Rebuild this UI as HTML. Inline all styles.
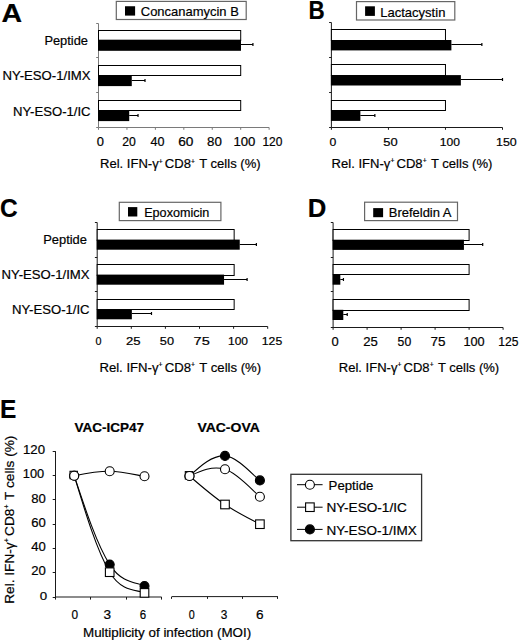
<!DOCTYPE html><html><head><meta charset="utf-8"><style>html,body{margin:0;padding:0;background:#fff;overflow:hidden}svg{display:block}text{font-family:"Liberation Sans",sans-serif;fill:#000;stroke:#000;stroke-width:0.2px}</style></head><body>
<svg width="520" height="642" viewBox="0 0 520 642">
<line x1="98.5" y1="23.5" x2="98.5" y2="127.5" stroke="#7a7a7a" stroke-width="1"/>
<line x1="96.2" y1="23.5" x2="98.5" y2="23.5" stroke="#7a7a7a" stroke-width="1"/>
<line x1="96.2" y1="57.5" x2="98.5" y2="57.5" stroke="#7a7a7a" stroke-width="1"/>
<line x1="96.2" y1="92.5" x2="98.5" y2="92.5" stroke="#7a7a7a" stroke-width="1"/>
<line x1="96.2" y1="127.5" x2="98.5" y2="127.5" stroke="#7a7a7a" stroke-width="1"/>
<line x1="98.5" y1="127.5" x2="269.14" y2="127.5" stroke="#7a7a7a" stroke-width="1"/>
<line x1="98.50" y1="127.5" x2="98.50" y2="129.8" stroke="#7a7a7a" stroke-width="1"/>
<line x1="126.94" y1="127.5" x2="126.94" y2="129.8" stroke="#7a7a7a" stroke-width="1"/>
<line x1="155.38" y1="127.5" x2="155.38" y2="129.8" stroke="#7a7a7a" stroke-width="1"/>
<line x1="183.82" y1="127.5" x2="183.82" y2="129.8" stroke="#7a7a7a" stroke-width="1"/>
<line x1="212.26" y1="127.5" x2="212.26" y2="129.8" stroke="#7a7a7a" stroke-width="1"/>
<line x1="240.70" y1="127.5" x2="240.70" y2="129.8" stroke="#7a7a7a" stroke-width="1"/>
<line x1="269.14" y1="127.5" x2="269.14" y2="129.8" stroke="#7a7a7a" stroke-width="1"/>
<rect x="98.5" y="30.5" width="142.20" height="10" fill="#fff" stroke="#000" stroke-width="1"/>
<rect x="98.0" y="39.7" width="142.98" height="11.1" fill="#000"/>
<line x1="240.98" y1="44.50" x2="252.93" y2="44.50" stroke="#000" stroke-width="1"/>
<line x1="252.93" y1="43.00" x2="252.93" y2="46.00" stroke="#000" stroke-width="1.2"/>
<rect x="98.5" y="65.5" width="142.20" height="10" fill="#fff" stroke="#000" stroke-width="1"/>
<rect x="98.0" y="75" width="33.77" height="11.1" fill="#000"/>
<line x1="131.77" y1="80.50" x2="145.00" y2="80.50" stroke="#000" stroke-width="1"/>
<line x1="145.00" y1="79.00" x2="145.00" y2="82.00" stroke="#000" stroke-width="1.2"/>
<rect x="98.5" y="100.5" width="142.20" height="10" fill="#fff" stroke="#000" stroke-width="1"/>
<rect x="98.0" y="110" width="31.22" height="11.1" fill="#000"/>
<line x1="129.22" y1="115.50" x2="138.03" y2="115.50" stroke="#000" stroke-width="1"/>
<line x1="138.03" y1="114.00" x2="138.03" y2="117.00" stroke="#000" stroke-width="1.2"/>
<rect x="116.3" y="1.4" width="129.90" height="18.10" fill="#fff" stroke="#666" stroke-width="1.2"/>
<rect x="125" y="6.25" width="10.10" height="9.35" fill="#000"/>
<line x1="331.4" y1="22.5" x2="331.4" y2="127.5" stroke="#1a1a1a" stroke-width="1"/>
<line x1="329.09999999999997" y1="22.5" x2="331.4" y2="22.5" stroke="#1a1a1a" stroke-width="1"/>
<line x1="329.09999999999997" y1="57.5" x2="331.4" y2="57.5" stroke="#1a1a1a" stroke-width="1"/>
<line x1="329.09999999999997" y1="92.5" x2="331.4" y2="92.5" stroke="#1a1a1a" stroke-width="1"/>
<line x1="329.09999999999997" y1="127.5" x2="331.4" y2="127.5" stroke="#1a1a1a" stroke-width="1"/>
<line x1="331.4" y1="127.5" x2="502.505" y2="127.5" stroke="#1a1a1a" stroke-width="1"/>
<line x1="331.40" y1="127.5" x2="331.40" y2="129.8" stroke="#1a1a1a" stroke-width="1"/>
<line x1="388.44" y1="127.5" x2="388.44" y2="129.8" stroke="#1a1a1a" stroke-width="1"/>
<line x1="445.47" y1="127.5" x2="445.47" y2="129.8" stroke="#1a1a1a" stroke-width="1"/>
<line x1="502.50" y1="127.5" x2="502.50" y2="129.8" stroke="#1a1a1a" stroke-width="1"/>
<rect x="331.4" y="29.5" width="114.07" height="11" fill="#fff" stroke="#000" stroke-width="1"/>
<rect x="330.9" y="40" width="120.50" height="10.4" fill="#000"/>
<line x1="451.40" y1="44.50" x2="481.86" y2="44.50" stroke="#000" stroke-width="1"/>
<line x1="481.86" y1="43.00" x2="481.86" y2="46.00" stroke="#000" stroke-width="1.2"/>
<rect x="331.4" y="64.5" width="114.07" height="11" fill="#fff" stroke="#000" stroke-width="1"/>
<rect x="330.9" y="75.1" width="129.97" height="10.4" fill="#000"/>
<line x1="460.87" y1="79.50" x2="502.50" y2="79.50" stroke="#000" stroke-width="1"/>
<line x1="502.50" y1="78.00" x2="502.50" y2="81.00" stroke="#000" stroke-width="1.2"/>
<rect x="331.4" y="100.5" width="114.07" height="10" fill="#fff" stroke="#000" stroke-width="1"/>
<rect x="330.9" y="110.5" width="29.47" height="10.4" fill="#000"/>
<line x1="360.37" y1="115.50" x2="374.86" y2="115.50" stroke="#000" stroke-width="1"/>
<line x1="374.86" y1="114.00" x2="374.86" y2="117.00" stroke="#000" stroke-width="1.2"/>
<rect x="356.5" y="1.6" width="98.30" height="18.40" fill="#fff" stroke="#666" stroke-width="1.2"/>
<rect x="365.1" y="6.3" width="9.80" height="9.60" fill="#000"/>
<line x1="97.2" y1="222.5" x2="97.2" y2="326.5" stroke="#1a1a1a" stroke-width="1"/>
<line x1="94.9" y1="222.5" x2="97.2" y2="222.5" stroke="#1a1a1a" stroke-width="1"/>
<line x1="94.9" y1="257.5" x2="97.2" y2="257.5" stroke="#1a1a1a" stroke-width="1"/>
<line x1="94.9" y1="291.5" x2="97.2" y2="291.5" stroke="#1a1a1a" stroke-width="1"/>
<line x1="94.9" y1="326.5" x2="97.2" y2="326.5" stroke="#1a1a1a" stroke-width="1"/>
<line x1="97.2" y1="326.5" x2="267.7" y2="326.5" stroke="#1a1a1a" stroke-width="1"/>
<line x1="97.20" y1="326.5" x2="97.20" y2="328.8" stroke="#1a1a1a" stroke-width="1"/>
<line x1="131.30" y1="326.5" x2="131.30" y2="328.8" stroke="#1a1a1a" stroke-width="1"/>
<line x1="165.40" y1="326.5" x2="165.40" y2="328.8" stroke="#1a1a1a" stroke-width="1"/>
<line x1="199.50" y1="326.5" x2="199.50" y2="328.8" stroke="#1a1a1a" stroke-width="1"/>
<line x1="233.60" y1="326.5" x2="233.60" y2="328.8" stroke="#1a1a1a" stroke-width="1"/>
<line x1="267.70" y1="326.5" x2="267.70" y2="328.8" stroke="#1a1a1a" stroke-width="1"/>
<rect x="97.2" y="229.5" width="136.95" height="11" fill="#fff" stroke="#000" stroke-width="1"/>
<rect x="96.7" y="239.6" width="143.04" height="10.1" fill="#000"/>
<line x1="239.74" y1="244.50" x2="256.38" y2="244.50" stroke="#000" stroke-width="1"/>
<line x1="256.38" y1="243.00" x2="256.38" y2="246.00" stroke="#000" stroke-width="1.2"/>
<rect x="97.2" y="264.5" width="136.95" height="11" fill="#fff" stroke="#000" stroke-width="1"/>
<rect x="96.7" y="274.6" width="127.35" height="10.1" fill="#000"/>
<line x1="224.05" y1="279.50" x2="247.10" y2="279.50" stroke="#000" stroke-width="1"/>
<line x1="247.10" y1="278.00" x2="247.10" y2="281.00" stroke="#000" stroke-width="1.2"/>
<rect x="97.2" y="299.5" width="136.95" height="10" fill="#fff" stroke="#000" stroke-width="1"/>
<rect x="96.7" y="309.2" width="35.15" height="10.1" fill="#000"/>
<line x1="131.85" y1="313.50" x2="151.49" y2="313.50" stroke="#000" stroke-width="1"/>
<line x1="151.49" y1="312.00" x2="151.49" y2="315.00" stroke="#000" stroke-width="1.2"/>
<rect x="119.3" y="202.3" width="101.60" height="18.30" fill="#fff" stroke="#666" stroke-width="1.2"/>
<rect x="128" y="207.1" width="9.30" height="9.40" fill="#000"/>
<line x1="333.1" y1="222.5" x2="333.1" y2="327.5" stroke="#1a1a1a" stroke-width="1"/>
<line x1="330.8" y1="222.5" x2="333.1" y2="222.5" stroke="#1a1a1a" stroke-width="1"/>
<line x1="330.8" y1="257.5" x2="333.1" y2="257.5" stroke="#1a1a1a" stroke-width="1"/>
<line x1="330.8" y1="291.5" x2="333.1" y2="291.5" stroke="#1a1a1a" stroke-width="1"/>
<line x1="330.8" y1="327.5" x2="333.1" y2="327.5" stroke="#1a1a1a" stroke-width="1"/>
<line x1="333.1" y1="327.5" x2="503.1" y2="327.5" stroke="#1a1a1a" stroke-width="1"/>
<line x1="333.10" y1="327.5" x2="333.10" y2="329.8" stroke="#1a1a1a" stroke-width="1"/>
<line x1="367.10" y1="327.5" x2="367.10" y2="329.8" stroke="#1a1a1a" stroke-width="1"/>
<line x1="401.10" y1="327.5" x2="401.10" y2="329.8" stroke="#1a1a1a" stroke-width="1"/>
<line x1="435.10" y1="327.5" x2="435.10" y2="329.8" stroke="#1a1a1a" stroke-width="1"/>
<line x1="469.10" y1="327.5" x2="469.10" y2="329.8" stroke="#1a1a1a" stroke-width="1"/>
<line x1="503.10" y1="327.5" x2="503.10" y2="329.8" stroke="#1a1a1a" stroke-width="1"/>
<rect x="333.1" y="229.5" width="136.00" height="11" fill="#fff" stroke="#000" stroke-width="1"/>
<rect x="332.6" y="239.7" width="131.33" height="10.2" fill="#000"/>
<line x1="463.93" y1="244.50" x2="482.70" y2="244.50" stroke="#000" stroke-width="1"/>
<line x1="482.70" y1="243.00" x2="482.70" y2="246.00" stroke="#000" stroke-width="1.2"/>
<rect x="333.1" y="264.5" width="136.00" height="10" fill="#fff" stroke="#000" stroke-width="1"/>
<rect x="332.6" y="274.5" width="7.71" height="10.2" fill="#000"/>
<line x1="340.31" y1="279.50" x2="343.44" y2="279.50" stroke="#000" stroke-width="1"/>
<line x1="343.44" y1="278.00" x2="343.44" y2="281.00" stroke="#000" stroke-width="1.2"/>
<rect x="333.1" y="299.5" width="136.00" height="11" fill="#fff" stroke="#000" stroke-width="1"/>
<rect x="332.6" y="309.8" width="10.70" height="10.2" fill="#000"/>
<line x1="343.30" y1="314.50" x2="347.24" y2="314.50" stroke="#000" stroke-width="1"/>
<line x1="347.24" y1="313.00" x2="347.24" y2="316.00" stroke="#000" stroke-width="1.2"/>
<rect x="364.6" y="202.2" width="92.90" height="18.40" fill="#fff" stroke="#666" stroke-width="1.2"/>
<rect x="373.2" y="208.1" width="9.90" height="9.10" fill="#000"/>
<line x1="55.5" y1="451.2" x2="55.5" y2="597.3" stroke="#1a1a1a" stroke-width="1"/>
<line x1="52.7" y1="597.50" x2="55.5" y2="597.50" stroke="#1a1a1a" stroke-width="1"/>
<line x1="52.7" y1="572.50" x2="55.5" y2="572.50" stroke="#1a1a1a" stroke-width="1"/>
<line x1="52.7" y1="548.50" x2="55.5" y2="548.50" stroke="#1a1a1a" stroke-width="1"/>
<line x1="52.7" y1="524.50" x2="55.5" y2="524.50" stroke="#1a1a1a" stroke-width="1"/>
<line x1="52.7" y1="499.50" x2="55.5" y2="499.50" stroke="#1a1a1a" stroke-width="1"/>
<line x1="52.7" y1="475.50" x2="55.5" y2="475.50" stroke="#1a1a1a" stroke-width="1"/>
<line x1="52.7" y1="451.50" x2="55.5" y2="451.50" stroke="#1a1a1a" stroke-width="1"/>
<line x1="55.5" y1="597" x2="161.6" y2="597" stroke="#1a1a1a" stroke-width="1.2"/>
<line x1="55.5" y1="597" x2="55.5" y2="599.6" stroke="#1a1a1a" stroke-width="1"/>
<line x1="90.5" y1="597" x2="90.5" y2="599.6" stroke="#1a1a1a" stroke-width="1"/>
<line x1="126.5" y1="597" x2="126.5" y2="599.6" stroke="#1a1a1a" stroke-width="1"/>
<line x1="161.5" y1="597" x2="161.5" y2="599.6" stroke="#1a1a1a" stroke-width="1"/>
<line x1="171.9" y1="596.6" x2="277.9" y2="596.6" stroke="#1a1a1a" stroke-width="1"/>
<line x1="171.5" y1="596.6" x2="171.5" y2="598.9" stroke="#1a1a1a" stroke-width="1"/>
<line x1="207.5" y1="596.6" x2="207.5" y2="598.9" stroke="#1a1a1a" stroke-width="1"/>
<line x1="242.5" y1="596.6" x2="242.5" y2="598.9" stroke="#1a1a1a" stroke-width="1"/>
<line x1="277.5" y1="596.6" x2="277.5" y2="598.9" stroke="#1a1a1a" stroke-width="1"/>
<path d="M74.20,475.70 C85.62,510.22 97.05,544.75 109.70,564.60 C122.35,584.45 138.70,582.43 144.50,586.00" fill="none" stroke="#000" stroke-width="1.1"/>
<path d="M74.20,475.70 C85.62,513.40 97.05,551.10 109.70,572.20 C122.35,593.30 138.70,589.45 144.50,592.90" fill="none" stroke="#000" stroke-width="1.1"/>
<path d="M74.20,475.70 C85.62,473.45 97.05,471.19 109.70,471.30 C122.35,471.41 138.70,475.47 144.50,476.30" fill="none" stroke="#000" stroke-width="1.1"/>
<circle cx="74.2" cy="475.7" r="4.5" fill="#000" stroke="#000" stroke-width="1.1"/>
<circle cx="109.7" cy="564.6" r="4.5" fill="#000" stroke="#000" stroke-width="1.1"/>
<circle cx="144.5" cy="586" r="4.5" fill="#000" stroke="#000" stroke-width="1.1"/>
<rect x="70.00" y="471.30" width="7.40" height="7.40" fill="#fff" stroke="#000" stroke-width="1.1"/>
<rect x="105.40" y="567.90" width="8.60" height="8.60" fill="#fff" stroke="#000" stroke-width="1.1"/>
<rect x="140.20" y="588.60" width="8.60" height="8.60" fill="#fff" stroke="#000" stroke-width="1.1"/>
<circle cx="74.2" cy="475.7" r="4.5" fill="#fff" stroke="#000" stroke-width="1.1"/>
<circle cx="109.7" cy="471.3" r="4.5" fill="#fff" stroke="#000" stroke-width="1.1"/>
<circle cx="144.5" cy="476.3" r="4.5" fill="#fff" stroke="#000" stroke-width="1.1"/>
<path d="M189.50,476.00 C200.91,465.55 212.33,455.11 225.00,455.90 C237.67,456.69 254.08,476.32 259.90,480.40" fill="none" stroke="#000" stroke-width="1.1"/>
<path d="M189.50,476.00 C200.91,485.91 212.33,495.82 225.00,504.50 C237.67,513.18 254.08,520.92 259.90,524.20" fill="none" stroke="#000" stroke-width="1.1"/>
<path d="M189.50,476.00 C200.91,470.74 212.33,465.47 225.00,469.20 C237.67,472.93 254.08,492.12 259.90,496.70" fill="none" stroke="#000" stroke-width="1.1"/>
<circle cx="189.5" cy="476" r="4.5" fill="#000" stroke="#000" stroke-width="1.1"/>
<circle cx="225" cy="455.9" r="4.5" fill="#000" stroke="#000" stroke-width="1.1"/>
<circle cx="259.9" cy="480.4" r="4.5" fill="#000" stroke="#000" stroke-width="1.1"/>
<rect x="185.30" y="471.60" width="7.40" height="7.40" fill="#fff" stroke="#000" stroke-width="1.1"/>
<rect x="220.70" y="500.20" width="8.60" height="8.60" fill="#fff" stroke="#000" stroke-width="1.1"/>
<rect x="255.60" y="519.90" width="8.60" height="8.60" fill="#fff" stroke="#000" stroke-width="1.1"/>
<circle cx="189.5" cy="476" r="4.5" fill="#fff" stroke="#000" stroke-width="1.1"/>
<circle cx="225" cy="469.2" r="4.5" fill="#fff" stroke="#000" stroke-width="1.1"/>
<circle cx="259.9" cy="496.7" r="4.5" fill="#fff" stroke="#000" stroke-width="1.1"/>
<rect x="290.9" y="474.3" width="130.7" height="66.4" fill="none" stroke="#333" stroke-width="1.3"/>
<line x1="297" y1="484.7" x2="322.6" y2="484.7" stroke="#000" stroke-width="1"/>
<circle cx="309.9" cy="484.7" r="4.5" fill="#fff" stroke="#000" stroke-width="1.1"/>
<line x1="297" y1="507.2" x2="322.6" y2="507.2" stroke="#000" stroke-width="1"/>
<rect x="305.60" y="502.90" width="8.60" height="8.60" fill="#fff" stroke="#000" stroke-width="1.1"/>
<line x1="297" y1="529.4" x2="322.6" y2="529.4" stroke="#000" stroke-width="1"/>
<circle cx="309.9" cy="529.4" r="4.5" fill="#000" stroke="#000" stroke-width="1.1"/>
<text id="LA" x="1.60" y="21.80" font-size="26.24" font-weight="bold" textLength="20.60" lengthAdjust="spacingAndGlyphs">A</text>
<text id="LB" x="308.40" y="18.60" font-size="25.73" font-weight="bold" textLength="16.20" lengthAdjust="spacingAndGlyphs">B</text>
<text id="LC" x="0.10" y="216.50" font-size="25.29" font-weight="bold" textLength="17.70" lengthAdjust="spacingAndGlyphs">C</text>
<text id="LD" x="307.80" y="216.80" font-size="25.87" font-weight="bold" textLength="18.60" lengthAdjust="spacingAndGlyphs">D</text>
<text id="LE" x="0.10" y="417.60" font-size="25.73" font-weight="bold" textLength="16.30" lengthAdjust="spacingAndGlyphs">E</text>
<text id="gA" x="140.80" y="15.70" font-size="13.37" textLength="98.00" lengthAdjust="spacingAndGlyphs">Concanamycin B</text>
<text id="gB" x="380.20" y="16.60" font-size="13.37" textLength="65.20" lengthAdjust="spacingAndGlyphs">Lactacystin</text>
<text id="gC" x="144.20" y="216.90" font-size="12.79" textLength="65.20" lengthAdjust="spacingAndGlyphs">Epoxomicin</text>
<text id="gD" x="388.80" y="217.30" font-size="12.65" textLength="62.70" lengthAdjust="spacingAndGlyphs">Brefeldin A</text>
<text id="cA1" x="44.40" y="45.00" font-size="13.37" textLength="43.60" lengthAdjust="spacingAndGlyphs">Peptide</text>
<text id="cA2" x="2.60" y="80.40" font-size="12.35" textLength="88.00" lengthAdjust="spacingAndGlyphs">NY-ESO-1/IMX</text>
<text id="cA3" x="13.00" y="115.60" font-size="12.65" textLength="77.60" lengthAdjust="spacingAndGlyphs">NY-ESO-1/IC</text>
<text id="cC1" x="43.20" y="243.80" font-size="13.37" textLength="43.80" lengthAdjust="spacingAndGlyphs">Peptide</text>
<text id="cC2" x="1.60" y="278.50" font-size="12.94" textLength="88.00" lengthAdjust="spacingAndGlyphs">NY-ESO-1/IMX</text>
<text id="cC3" x="12.00" y="314.00" font-size="12.50" textLength="77.60" lengthAdjust="spacingAndGlyphs">NY-ESO-1/IC</text>
<text id="tA0" x="96.80" y="146.34" font-size="12.34" textLength="7.20" lengthAdjust="spacingAndGlyphs">0</text>
<text id="tA20" x="122.20" y="146.34" font-size="12.34" textLength="13.60" lengthAdjust="spacingAndGlyphs">20</text>
<text id="tA40" x="150.40" y="146.34" font-size="12.34" textLength="14.00" lengthAdjust="spacingAndGlyphs">40</text>
<text id="tA60" x="178.20" y="146.34" font-size="12.34" textLength="15.20" lengthAdjust="spacingAndGlyphs">60</text>
<text id="tA80" x="207.00" y="146.34" font-size="12.34" textLength="14.80" lengthAdjust="spacingAndGlyphs">80</text>
<text id="tA100" x="233.40" y="146.34" font-size="12.34" textLength="22.00" lengthAdjust="spacingAndGlyphs">100</text>
<text id="tA120" x="262.40" y="146.34" font-size="12.34" textLength="20.00" lengthAdjust="spacingAndGlyphs">120</text>
<text id="tB0" x="329.40" y="145.74" font-size="11.49" textLength="6.80" lengthAdjust="spacingAndGlyphs">0</text>
<text id="tB50" x="383.20" y="145.74" font-size="11.49" textLength="14.40" lengthAdjust="spacingAndGlyphs">50</text>
<text id="tB100" x="439.80" y="145.74" font-size="11.49" textLength="20.20" lengthAdjust="spacingAndGlyphs">100</text>
<text id="tB150" x="496.00" y="145.74" font-size="11.49" textLength="20.80" lengthAdjust="spacingAndGlyphs">150</text>
<text id="tC0" x="95.60" y="345.44" font-size="11.63" textLength="6.00" lengthAdjust="spacingAndGlyphs">0</text>
<text id="tC25" x="126.00" y="345.44" font-size="11.63" textLength="14.60" lengthAdjust="spacingAndGlyphs">25</text>
<text id="tC50" x="159.80" y="345.44" font-size="11.63" textLength="14.20" lengthAdjust="spacingAndGlyphs">50</text>
<text id="tC75" x="193.60" y="345.44" font-size="11.63" textLength="16.20" lengthAdjust="spacingAndGlyphs">75</text>
<text id="tC100" x="228.00" y="345.44" font-size="11.63" textLength="20.00" lengthAdjust="spacingAndGlyphs">100</text>
<text id="tC125" x="261.80" y="345.44" font-size="11.63" textLength="20.40" lengthAdjust="spacingAndGlyphs">125</text>
<text id="tD0" x="331.60" y="345.74" font-size="12.06" textLength="7.20" lengthAdjust="spacingAndGlyphs">0</text>
<text id="tD25" x="363.20" y="345.74" font-size="12.06" textLength="14.60" lengthAdjust="spacingAndGlyphs">25</text>
<text id="tD50" x="397.60" y="345.74" font-size="12.06" textLength="13.60" lengthAdjust="spacingAndGlyphs">50</text>
<text id="tD75" x="430.60" y="345.74" font-size="12.06" textLength="15.00" lengthAdjust="spacingAndGlyphs">75</text>
<text id="tD100" x="463.40" y="345.74" font-size="12.06" textLength="21.20" lengthAdjust="spacingAndGlyphs">100</text>
<text id="tD125" x="498.20" y="345.74" font-size="12.06" textLength="20.20" lengthAdjust="spacingAndGlyphs">125</text>
<text id="xA" x="100.00" y="168.20" font-size="13.60" textLength="160.60" lengthAdjust="spacingAndGlyphs">Rel. IFN-&#947;<tspan font-size="7" dy="-4.7">+</tspan><tspan dy="4.7" dx="-1.5"> CD8</tspan><tspan font-size="7" dy="-4.7">+</tspan><tspan dy="4.7" dx="1"> T cells (%)</tspan></text>
<text id="xB" x="331.60" y="167.50" font-size="13.60" textLength="160.80" lengthAdjust="spacingAndGlyphs">Rel. IFN-&#947;<tspan font-size="7" dy="-4.7">+</tspan><tspan dy="4.7" dx="-1.5"> CD8</tspan><tspan font-size="7" dy="-4.7">+</tspan><tspan dy="4.7" dx="1"> T cells (%)</tspan></text>
<text id="xC" x="99.40" y="372.00" font-size="13.60" textLength="161.80" lengthAdjust="spacingAndGlyphs">Rel. IFN-&#947;<tspan font-size="7" dy="-4.7">+</tspan><tspan dy="4.7" dx="-1.5"> CD8</tspan><tspan font-size="7" dy="-4.7">+</tspan><tspan dy="4.7" dx="1"> T cells (%)</tspan></text>
<text id="xD" x="338.80" y="372.00" font-size="13.60" textLength="160.40" lengthAdjust="spacingAndGlyphs">Rel. IFN-&#947;<tspan font-size="7" dy="-4.7">+</tspan><tspan dy="4.7" dx="-1.5"> CD8</tspan><tspan font-size="7" dy="-4.7">+</tspan><tspan dy="4.7" dx="1"> T cells (%)</tspan></text>
<text id="eT1" x="74.40" y="431.80" font-size="13.08" font-weight="bold" textLength="69.60" lengthAdjust="spacingAndGlyphs">VAC-ICP47</text>
<text id="eT2" x="197.40" y="431.80" font-size="13.08" font-weight="bold" textLength="62.40" lengthAdjust="spacingAndGlyphs">VAC-OVA</text>
<text id="ey120" x="23.00" y="453.74" font-size="12.20" textLength="22.00" lengthAdjust="spacingAndGlyphs">120</text>
<text id="ey100" x="22.80" y="478.34" font-size="12.34" textLength="21.40" lengthAdjust="spacingAndGlyphs">100</text>
<text id="ey80" x="31.20" y="502.54" font-size="12.34" textLength="14.60" lengthAdjust="spacingAndGlyphs">80</text>
<text id="ey60" x="31.20" y="526.64" font-size="12.34" textLength="14.60" lengthAdjust="spacingAndGlyphs">60</text>
<text id="ey40" x="31.20" y="551.34" font-size="12.20" textLength="14.60" lengthAdjust="spacingAndGlyphs">40</text>
<text id="ey20" x="31.20" y="575.44" font-size="11.91" textLength="14.60" lengthAdjust="spacingAndGlyphs">20</text>
<text id="ey0" x="39.80" y="599.74" font-size="11.49" textLength="7.40" lengthAdjust="spacingAndGlyphs">0</text>
<text id="ex0" x="71.40" y="618.84" font-size="12.77" textLength="6.60" lengthAdjust="spacingAndGlyphs">0</text>
<text id="ex1" x="103.60" y="618.84" font-size="12.77" textLength="7.60" lengthAdjust="spacingAndGlyphs">3</text>
<text id="ex2" x="139.80" y="618.84" font-size="12.77" textLength="6.40" lengthAdjust="spacingAndGlyphs">6</text>
<text id="ex3" x="188.80" y="618.84" font-size="12.77" textLength="6.00" lengthAdjust="spacingAndGlyphs">0</text>
<text id="ex4" x="220.80" y="618.84" font-size="12.77" textLength="6.60" lengthAdjust="spacingAndGlyphs">3</text>
<text id="ex5" x="256.00" y="618.84" font-size="12.77" textLength="7.60" lengthAdjust="spacingAndGlyphs">6</text>
<text id="eM" x="83.00" y="637.30" font-size="13.08" textLength="168.20" lengthAdjust="spacingAndGlyphs">Multiplicity of infection (MOI)</text>
<text id="eL1" x="328.60" y="490.20" font-size="13.08" textLength="44.80" lengthAdjust="spacingAndGlyphs">Peptide</text>
<text id="eL2" x="326.40" y="512.40" font-size="12.65" textLength="80.40" lengthAdjust="spacingAndGlyphs">NY-ESO-1/IC</text>
<text id="eL3" x="326.40" y="534.90" font-size="13.52" textLength="90.40" lengthAdjust="spacingAndGlyphs">NY-ESO-1/IMX</text>
<text id="rot" transform="translate(13.8,603.80) rotate(-90)" x="0" y="0" font-size="13.6" textLength="168.20" lengthAdjust="spacingAndGlyphs">Rel. IFN-&#947;<tspan font-size="7" dy="-4.7">+</tspan><tspan dy="4.7" dx="-1.5"> CD8</tspan><tspan font-size="7" dy="-4.7">+</tspan><tspan dy="4.7" dx="1"> T cells (%)</tspan></text>
</svg></body></html>
